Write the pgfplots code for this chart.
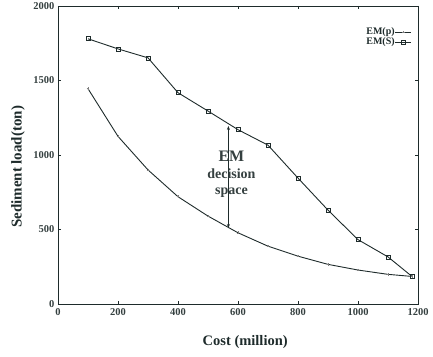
\documentclass[border=0pt]{standalone}
\usepackage{pgfplots}
\pgfplotsset{compat=1.18}
\usepackage{fontspec}
\setmainfont{Liberation Serif}
\usetikzlibrary{calc,arrows.meta}
\definecolor{ink}{HTML}{1E2B2B}
\begin{document}
\begin{tikzpicture}
\begin{axis}[
  scale only axis, width=360pt, height=298pt,
  xmin=0, xmax=1200, ymin=0, ymax=2000,
  xtick={0,200,...,1200}, ytick={0,500,...,2000},
  tick align=inside, major tick length=3pt,
  axis line style={ink, line width=0.9pt},
  tick style={ink, line width=0.7pt},
  /pgf/number format/assume math mode=true,
  /pgf/number format/1000 sep={},
  ticklabel style={font=\fontsize{10.5}{12}\selectfont\bfseries, text=ink!90},
  xticklabel style={yshift=-1pt},
  xlabel={Cost (million)}, ylabel={Sediment load(ton)},
  xlabel style={font=\fontsize{14.5}{16}\selectfont\bfseries, text=ink, at={(axis description cs:0.52,-0.128)}, anchor=center},
  ylabel style={font=\fontsize{15}{17}\selectfont\bfseries, text=ink, at={(axis description cs:-0.111,0.46)}, anchor=center, rotate=0},
  legend style={draw=none, fill=none, at={(0.985,0.93)}, anchor=north east,
    font=\fontsize{10}{10}\selectfont\bfseries, text=ink, inner sep=0.5pt,
    row sep=1pt, legend cell align=right,
    nodes={inner sep=0.3pt}},
  legend plot pos=right,
  legend image code/.code={
    \draw[mark repeat=2,mark phase=2,#1] plot coordinates {(0pt,0pt) (8pt,0pt) (16pt,0pt)};},
]
\addplot[ink, line width=0.9pt, mark=+, mark size=1.3pt, mark options={gray, line width=0.5pt}] coordinates {
 (100,1445) (200,1125) (300,900) (400,720) (500,590) (600,478) (700,388) (800,321) (900,266) (1000,228) (1100,199) (1180,185)};
\addlegendentry{EM(p)}
\addplot[ink, line width=0.9pt, mark=square, mark size=2pt, mark options={line width=0.6pt, solid}] coordinates {
 (100,1780) (200,1712) (300,1652) (400,1418) (500,1295) (600,1170) (700,1066) (800,845) (900,630) (1000,432) (1100,316) (1180,185)};
\addlegendentry{EM(S)}
\draw[ink, line width=0.8pt, {Stealth[length=4pt,width=3pt]}-{Stealth[length=4pt,width=3pt]}] (axis cs:568,510) -- (axis cs:568,1195);
\node[text=ink!90, font=\fontsize{16}{18}\selectfont\bfseries] at (axis cs:578,990) {EM};
\node[text=ink!90, font=\fontsize{14}{16}\selectfont\bfseries] at (axis cs:578,873) {decision};
\node[text=ink!90, font=\fontsize{14}{16}\selectfont\bfseries] at (axis cs:578,745) {space};
\end{axis}
\pgfresetboundingbox
\path[use as bounding box] ($(current axis.south west)+(-58pt,-52pt)$) rectangle ($(current axis.north east)+(15pt,6pt)$);
\end{tikzpicture}
\end{document}
